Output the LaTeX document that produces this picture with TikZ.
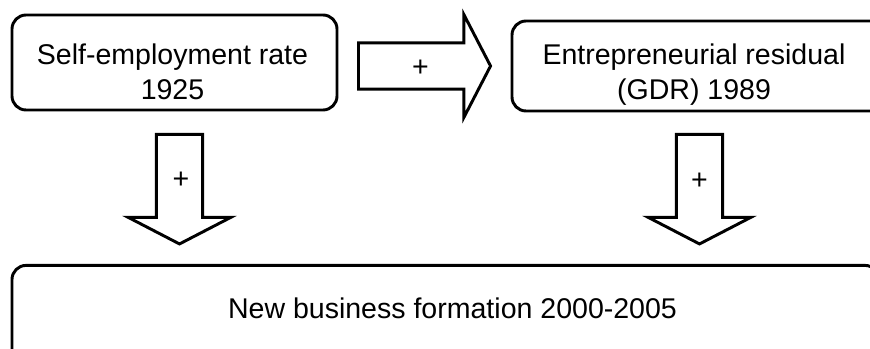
\documentclass[tikz,border=0pt]{standalone}
\usepackage{fontspec}
\setmainfont{Liberation Sans}
\usetikzlibrary{
    calc,
    positioning
}
\tikzset{
  box/.style = {
      draw,
      rectangle,
      rounded corners=10.5pt,
      line width=2.2pt,
      inner sep=0pt
  },
  boxtext/.style = {
      align=center,
      inner sep=0pt,
      font=\fontsize{21.4pt}{26pt}\selectfont
  },
  sign/.style = {
      inner sep=0pt,
      font=\fontsize{21.4pt}{26pt}\selectfont
  },
  blockarrow/.style = {
      draw,
      line width=2.2pt,
      line join=miter,
      to path={
        ($(\tikztotarget)!20pt!(\tikztostart)$) coordinate (head base)
        ($(\tikztostart)!17.4pt!90:(\tikztotarget)$)
        -- ($(head base)!17.4pt!90:(\tikztotarget)$)
        -- ($(head base)!38.6pt!90:(\tikztotarget)$)
        -- (\tikztotarget)
        -- ($(head base)!38.6pt!-90:(\tikztotarget)$)
        -- ($(head base)!17.4pt!-90:(\tikztotarget)$)
        -- ($(\tikztostart)!17.4pt!-90:(\tikztotarget)$)
        -- cycle
      }
  }
}

\begin{document}
\begin{tikzpicture}[x=0.75pt, y=-0.75pt]
    \useasboundingbox (0,0) rectangle (870,349);
    \clip (0,0) rectangle (870,349);
    % Boxes
    \node[box, minimum width=243.75pt, minimum height=71.25pt] (self) at (174.5,62.5) {};
    \node[box, minimum width=279.75pt, minimum height=67.5pt] (resid) at (698.5,66) {};
    \node[box, minimum width=650.25pt, minimum height=86pt] (newbiz) at (445.5,322.75) {};
    \node[boxtext] (self text) at (172.5,71.6) {Self-employment rate\\1925};
    \node[boxtext] (resid text) at (694,74.6) {Entrepreneurial residual\\(GDR) 1989};
    \node[boxtext] (newbiz text) at (452.5,308.6) {New business formation 2000-2005};
    % Arrows
    \coordinate (self resid from) at ($(self.east |- resid.west)+(20,0)$);
    \coordinate (self resid to) at ($(resid.west)+(-20,0)$);
    \coordinate (self newbiz from) at ($(self.south)+(5,23)$);
    \coordinate (self newbiz to) at ($(self.south |- newbiz.north)+(5,-20)$);
    \coordinate (resid newbiz from) at ($(resid.south)+(1,22)$);
    \coordinate (resid newbiz to) at ($(resid.south |- newbiz.north)+(1,-20)$);
    \draw[blockarrow] (self resid from) to (self resid to);
    \draw[blockarrow] (self newbiz from) to (self newbiz to);
    \draw[blockarrow] (resid newbiz from) to (resid newbiz to);
    \node[sign] (self resid plus) at ($(self resid from)!0.47!(self resid to)+(0,2)$) {+};
    \node[sign] (self newbiz plus) at ($(self newbiz from)!0.42!(self newbiz to)+(1.5,0)$) {+};
    \node[sign] (resid newbiz plus) at ($(resid newbiz from)!0.43!(resid newbiz to)$) {+};
\end{tikzpicture}
\end{document}
